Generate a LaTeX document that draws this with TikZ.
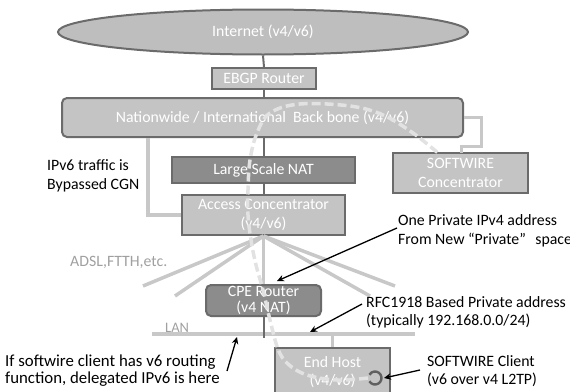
\documentclass[tikz,border=0pt]{standalone}
\usepackage{fontspec}
\setmainfont{Carlito}
\usetikzlibrary{shapes.geometric,arrows.meta,calc}
\definecolor{boxgray}{HTML}{C4C4C4}
\definecolor{darkfill}{HTML}{8C8C8C}
\definecolor{bordergray}{HTML}{6B6B6B}
\definecolor{linegray}{HTML}{C8C8C8}
\definecolor{dashcol}{HTML}{E2E2E2}
\definecolor{labelgray}{HTML}{A0A0A0}
\newcommand\bodyfont{\fontsize{15.8}{18.5}\selectfont}
\newcommand\tightfont{\fontsize{15.8}{16.5}\selectfont}
\newcommand\bigbodyfont{\fontsize{16.8}{17.5}\selectfont}
\tikzset{
  boxnode/.style={draw=bordergray, line width=2pt, fill=boxgray, text=white, align=center, inner sep=0pt, font=\bodyfont},
  darkbox/.style={boxnode, fill=darkfill},
  ellnode/.style={boxnode, ellipse, fill=boxgray!97!black},
  txt/.style={inner sep=0pt, align=left, font=\bodyfont, text=black},
  lightline/.style={draw=linegray, line width=3.5pt},
  darkline/.style={draw=bordergray, line width=2pt},
  callout/.style={-{Stealth[length=7pt,width=6.5pt]}, line width=1.3pt, draw=black},
  dashcurve/.style={draw=dashcol, line width=3.5pt, dash pattern=on 9pt off 4pt},
}
\begin{document}
\begin{tikzpicture}[x=1pt,y=-1pt]
\useasboundingbox (0,0) rectangle (570,391);

% nodes
\node[ellnode, minimum width=410, minimum height=45] (inet) at (263,32) {Internet (v4/v6)};
\node[boxnode, minimum width=104, minimum height=21] (ebgp) at (264,78.5) {EBGP Router};
\node[boxnode, rounded corners=5pt, minimum width=401, minimum height=39] (bb) at (262.5,117.5) {Nationwide / International\ \ Back bone (v4/v6)};
\node[darkbox, minimum width=183, minimum height=26] (lsn) at (263.5,170) {Large Scale NAT};
\node[boxnode, minimum width=135, minimum height=40] (swc) at (460.5,173) {SOFTWIRE\\Concentrator};
\node[boxnode, minimum width=163, minimum height=40] (ac) at (263.5,215) {Access Concentrator\\(v4/v6)};
\node[darkbox, font=\tightfont, rounded corners=5pt, minimum width=115, minimum height=31] (cpe) at (263.5,300.5) {CPE Router\\(v4 NAT)};
\node[boxnode, minimum width=115, minimum height=48] (host) at (332.5,372) {End Host\\(v4/v6)};

% dark connectors
\draw[darkline] (inet.south) -- (ebgp.north);
\draw[darkline] (ebgp.south) -- (ebgp.south |- bb.north);
\draw[darkline] (bb.south -| lsn.north) -- (lsn.north);
\draw[darkline] (lsn.south) -- (ac.north);

% light connectors
\coordinate (bbL) at (148,138);
\draw[lightline] (bbL) |- (ac.west);
\coordinate (swcIn) at (461,153);
\draw[lightline, line width=3pt] (bb.east) -- ++(17,0) |- ($(swcIn)+(0,-7)$) -- (swcIn);

% fan lines
\coordinate (f1) at (143,286);
\coordinate (f2) at (175,296);
\coordinate (f3) at (370,296);
\coordinate (f4) at (395,286);
\draw[lightline] (ac.south) -- (f1);
\draw[lightline] (ac.south) -- (f2);
\draw[lightline] (ac.south) -- (cpe.north);
\draw[lightline] (ac.south) -- (f3);
\draw[lightline] (ac.south) -- (f4);

% LAN
\coordinate (lanL) at (152,334);
\coordinate (lanR) at (415,334);
\draw[lightline] (lanL) -- (lanR);
\draw[lightline] (host.north |- lanL) -- (host.north);
\draw[darkline] (cpe.south) -- ++(0,21);

% dashed softwire path
\draw[dashcurve] plot[smooth, tension=0.6] coordinates {(368,378) (337,380) (307,375) (288,364) (278,349) (270,320) (263,290) (256,265) (251,240) (248,215) (248,190) (250,160) (257,133) (270,113) (300,104) (350,106) (383,115) (413,133) (438,153)};

% softwire client ring
\coordinate (hc) at (375,378);
\draw[draw=bordergray!90!black, line width=2.4pt] (hc) ++(150:6.5) arc[start angle=150, end angle=-150, radius=6.5];

% texts
\node[txt, anchor=west] (t1) at (47,176) {IPv6 traffic is\\Bypassed CGN};
\node[txt, anchor=west, text=labelgray] (adsl) at (70,262) {ADSL,FTTH,etc.};
\node[txt, anchor=west] (t2) at (398,231) {One Private IPv4 address\\From New “Private”\hspace{0.6em}space};
\node[txt, anchor=west] (t3) at (366,312.5) {RFC1918 Based Private address\\(typically 192.168.0.0/24)};
\node[txt, anchor=west] (t4) at (427,371) {SOFTWIRE Client\\(v6 over v4 L2TP)};
\node[txt, anchor=west, font=\bigbodyfont] (t5) at (5,370.5) {If softwire client has v6 routing\\function, delegated IPv6 is here};
\node[txt, anchor=west, text=labelgray, font=\fontsize{14.5}{16}\selectfont] (lan) at (165,327.5) {LAN};

% callout arrows
\coordinate (a1s) at (397,228); \coordinate (a1e) at (277,281);
\coordinate (a2s) at (362,304); \coordinate (a2e) at (310,332);
\coordinate (a3s) at (227,371); \coordinate (a3e) at (237,337);
\coordinate (a4s) at (420,370); \coordinate (a4e) at (384,378);
\draw[callout] (a1s) -- (a1e);
\draw[callout] (a2s) -- (a2e);
\draw[callout] (a3s) -- (a3e);
\draw[callout] (a4s) -- (a4e);
\end{tikzpicture}
\end{document}
